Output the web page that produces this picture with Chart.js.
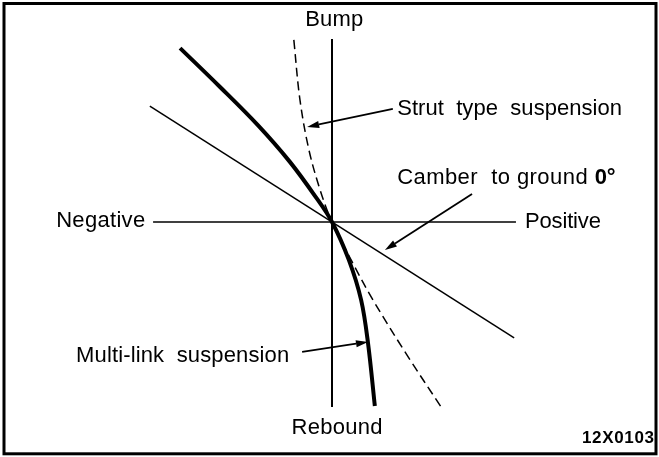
<!DOCTYPE html>
<html>
<head>
<meta charset="utf-8">
<script src="https://cdn.jsdelivr.net/npm/chart.js@4"></script>
<style>
  html, body { margin: 0; padding: 0; background: #fff; }
  canvas { display: block; }
</style>
</head>
<body>
<canvas id="camberChart" width="659" height="457"></canvas>
<script>
// wheel travel (y: bump +, rebound -) against camber (x: negative -, positive +)
const bumpAxis = [[0, 5.08], [0, -5.14]];
const camberAxis = [[-4.97, 0], [5.11, 0]];
const groundLine = [[-5.06, 3.22], [5.06, -3.22]];   // camber to ground 0°
const multiLink = [
  [-4.22, 4.83], [-3.11, 3.75], [-2.06, 2.69], [-1.17, 1.67], [-0.47, 0.72],
  [0, 0], [0.47, -1.06], [0.81, -2.17], [1.0, -3.36], [1.19, -5.11]
];
const strutType = [
  [-1.06, 5.06], [-0.89, 3.39], [-0.64, 2.0], [-0.33, 0.89],
  [0, 0], [0.56, -1.11], [1.14, -2.17], [2.08, -3.69], [3.03, -5.14]
];

// callout arrows: tail -> tip
const arrows = [
  { from: [1.69, 3.14], to: [-0.69, 2.64] },
  { from: [3.89, 0.78], to: [1.47, -0.78] },
  { from: [-0.83, -3.61], to: [1.0, -3.33] }
];

const labels = [
  { text: "Bump", at: [0.06, 5.61], align: "center", width: 58 },
  { text: "Rebound", at: [0.14, -5.71], align: "center", width: 91 },
  { text: "Negative", at: [-5.19, 0.03], align: "right", width: 89 },
  { text: "Positive", at: [5.36, 0.0], align: "left", width: 76 },
  { text: "Strut  type  suspension", at: [1.81, 3.14], align: "left", width: 225 },
  { text: "Camber  to ground", bold: "0°", at: [1.81, 1.22], align: "left", width: 218 },
  { text: "Multi-link  suspension", at: [-1.19, -3.72], align: "right", width: 213 }
];
const figureCode = "12X0103";

const pts = arr => arr.map(p => ({ x: p[0], y: p[1] }));
const FONT = '"Liberation Sans", Arial, sans-serif';
const SIZE = 22;

// spread glyphs so the text covers the given width; returns the spacing used
function fitText(ctx, text, width) {
  ctx.letterSpacing = "0px";
  const w = ctx.measureText(text).width;
  const gap = text.length > 1 ? (width - w) / (text.length - 1) : 0;
  ctx.letterSpacing = gap.toFixed(2) + "px";
  return gap;
}

const drawingPlugin = {
  id: "drawing",
  afterDatasetsDraw(chart) {
    const ctx = chart.ctx;
    const xs = chart.scales.x, ys = chart.scales.y;
    const px = v => xs.getPixelForValue(v);
    const py = v => ys.getPixelForValue(v);
    ctx.save();

    // arrows
    ctx.strokeStyle = "#000";
    ctx.fillStyle = "#000";
    ctx.lineWidth = 1.8;
    arrows.forEach(a => {
      const x0 = px(a.from[0]), y0 = py(a.from[1]);
      const x1 = px(a.to[0]), y1 = py(a.to[1]);
      const ang = Math.atan2(y1 - y0, x1 - x0);
      const len = 12, half = 3.6;
      const bx = x1 - len * Math.cos(ang), by = y1 - len * Math.sin(ang);
      ctx.beginPath();
      ctx.moveTo(x0, y0);
      ctx.lineTo(bx, by);
      ctx.stroke();
      ctx.beginPath();
      ctx.moveTo(x1, y1);
      ctx.lineTo(bx + half * Math.sin(ang), by - half * Math.cos(ang));
      ctx.lineTo(bx - half * Math.sin(ang), by + half * Math.cos(ang));
      ctx.closePath();
      ctx.fill();
    });

    // labels
    ctx.textBaseline = "middle";
    labels.forEach(l => {
      const x = px(l.at[0]), y = py(l.at[1]);
      ctx.font = SIZE + "px " + FONT;
      if (l.bold) {
        const full = l.text + " ";
        ctx.font = "bold " + SIZE + "px " + FONT;
        ctx.letterSpacing = "0px";
        const bw = ctx.measureText(l.bold).width;
        ctx.font = SIZE + "px " + FONT;
        fitText(ctx, full, l.width - bw);
        const tw = ctx.measureText(full).width;
        ctx.textAlign = "left";
        ctx.fillText(full, x, y);
        ctx.font = "bold " + SIZE + "px " + FONT;
        ctx.letterSpacing = "0px";
        ctx.fillText(l.bold, x + tw, y);
      } else {
        const gap = fitText(ctx, l.text, l.width);
        ctx.textAlign = l.align;
        let dx = 0;
        if (l.align === "center") dx = gap / 2;
        if (l.align === "right") dx = gap;
        ctx.fillText(l.text, x + dx, y);
      }
    });

    // figure code, bottom right
    ctx.font = "bold 17px " + FONT;
    fitText(ctx, figureCode, 72);
    ctx.textAlign = "left";
    ctx.fillText(figureCode, 582, 438);

    // frame
    ctx.letterSpacing = "0px";
    ctx.lineWidth = 3;
    ctx.strokeRect(4, 3.5, 652, 450.3);
    ctx.restore();
  }
};

const line = (data, width, extra) => Object.assign({
  data: pts(data),
  showLine: true,
  borderColor: "#000",
  borderWidth: width,
  pointRadius: 0,
  fill: false,
  clip: false
}, extra || {});

new Chart(document.getElementById("camberChart"), {
  type: "scatter",
  data: {
    datasets: [
      line(bumpAxis, 2),
      line(camberAxis, 1.5),
      line(groundLine, 1.5),
      line(strutType, 1.5, { borderDash: [9, 5], tension: 0.35 }),
      line(multiLink, 4, { tension: 0.35 })
    ]
  },
  options: {
    responsive: false,
    animation: false,
    devicePixelRatio: 1,
    layout: { padding: { left: 152, right: 147, top: 42, bottom: 55 } },
    plugins: { legend: { display: false }, tooltip: { enabled: false } },
    scales: {
      x: { type: "linear", min: -5, max: 5, display: false },
      y: { type: "linear", min: -5, max: 5, display: false }
    }
  },
  plugins: [drawingPlugin]
});
</script>
</body>
</html>
